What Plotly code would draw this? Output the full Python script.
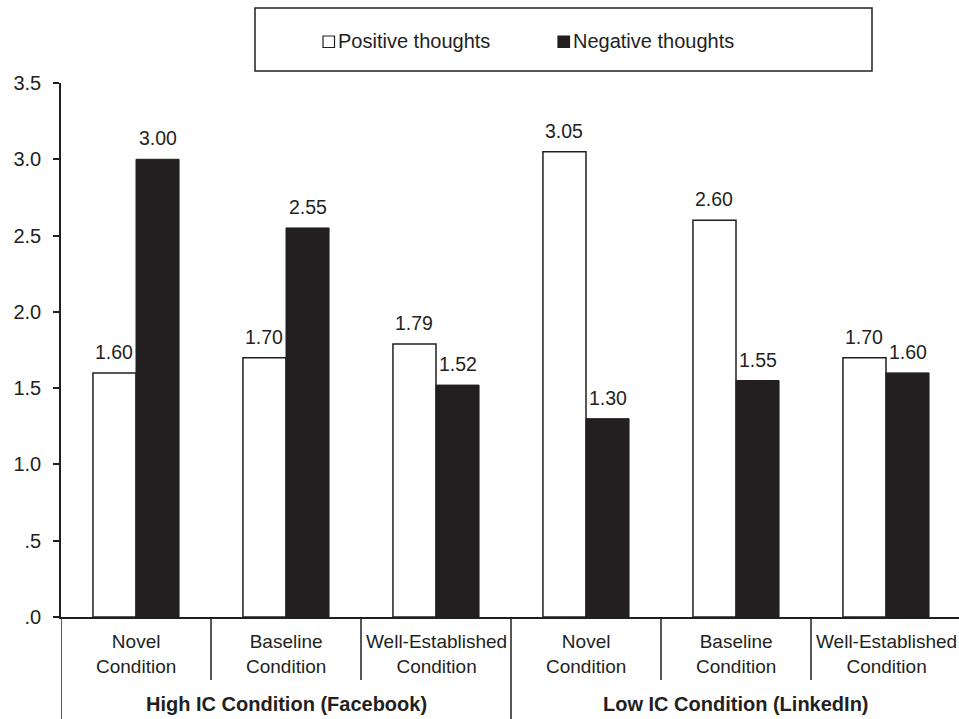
import plotly.graph_objects as go

# Thought counts by channel and relationship stage
conditions = ["Novel", "Baseline", "Well-Established",
              "Novel", "Baseline", "Well-Established"]
groups = ["High IC Condition (Facebook)", "Low IC Condition (LinkedIn)"]
positive = [1.60, 1.70, 1.79, 3.05, 2.60, 1.70]
negative = [3.00, 2.55, 1.52, 1.30, 1.55, 1.60]
y_ticks = [0, 0.5, 1.0, 1.5, 2.0, 2.5, 3.0, 3.5]
y_tick_text = [".0", ".5", "1.0", "1.5", "2.0", "2.5", "3.0", "3.5"]
series_names = ["Positive thoughts", "Negative thoughts"]

INK = "#231f20"
FONT = "Liberation Sans, Arial, Helvetica, sans-serif"
W, H = 959, 719
ML, MR, MT, MB = 61, 0, 83, 102
BAR_W = 0.287

plot_w = W - ML - MR
plot_h = H - MT - MB


def px_x(px):
    return (px - ML) / plot_w


def px_y(py):
    return (H - MB - py) / plot_h


xs = list(range(len(conditions)))

fig = go.Figure()
fig.add_trace(go.Bar(
    x=xs, y=positive, name=series_names[0], width=BAR_W, offset=-BAR_W,
    marker=dict(color="white", line=dict(color=INK, width=1.5)),
    showlegend=False, hoverinfo="skip",
))
fig.add_trace(go.Bar(
    x=xs, y=negative, name=series_names[1], width=BAR_W, offset=0,
    marker=dict(color=INK, line=dict(color=INK, width=1)),
    showlegend=False, hoverinfo="skip",
))

annotations = []
shapes = []

# value labels above each bar
for i in xs:
    for val, dx in ((positive[i], -BAR_W / 2), (negative[i], BAR_W / 2)):
        annotations.append(dict(
            x=i + dx, y=val, xref="x", yref="y", text=f"{val:.2f}",
            showarrow=False, xanchor="center", yanchor="bottom", yshift=8,
            font=dict(family=FONT, size=19.5, color=INK),
        ))

# condition labels under the axis
for i, name in enumerate(conditions):
    annotations.append(dict(
        x=i, y=px_y(629), xref="x", yref="paper", text=f"{name}<br>Condition",
        showarrow=False, xanchor="center", yanchor="top",
        font=dict(family=FONT, size=19, color=INK),
    ))

# group labels
n_per = len(conditions) // len(groups)
for g, gname in enumerate(groups):
    annotations.append(dict(
        x=g * n_per + (n_per - 1) / 2, y=px_y(704), xref="x", yref="paper",
        text=f"<b>{gname}</b>", showarrow=False, xanchor="center",
        yanchor="middle", font=dict(family=FONT, size=20, color=INK),
    ))

# separators below the axis
for i in range(len(conditions)):
    xb = i - 0.5
    y_end = px_y(H + 5) if i % n_per == 0 else px_y(680)
    shapes.append(dict(
        type="line", xref="x", yref="paper", x0=xb, x1=xb, y0=0, y1=y_end,
        line=dict(color=INK, width=1.5), layer="above",
    ))

# legend box
shapes.append(dict(
    type="rect", xref="paper", yref="paper",
    x0=px_x(255), x1=px_x(872), y0=px_y(71), y1=px_y(8),
    line=dict(color=INK, width=1.5), fillcolor="white",
))
legend_items = [(323, "white", series_names[0]), (558, INK, series_names[1])]
for left, fill, label in legend_items:
    shapes.append(dict(
        type="rect", xref="paper", yref="paper",
        x0=px_x(left), x1=px_x(left + 11.5), y0=px_y(47.5), y1=px_y(36),
        line=dict(color=INK, width=1.2), fillcolor=fill,
    ))
    annotations.append(dict(
        x=px_x(left + 13), y=px_y(41), xref="paper", yref="paper", text=label,
        showarrow=False, xanchor="left", yanchor="middle",
        font=dict(family=FONT, size=20, color=INK),
    ))

fig.update_layout(
    width=W, height=H,
    margin=dict(l=ML, r=MR, t=MT, b=MB, pad=0),
    paper_bgcolor="white", plot_bgcolor="white",
    barmode="overlay",
    annotations=annotations, shapes=shapes,
    font=dict(family=FONT, color=INK),
    xaxis=dict(
        range=[-0.5, -0.5 + plot_w / 150], showticklabels=False, ticks="",
        showgrid=False, zeroline=False, showline=True, linecolor=INK,
        linewidth=1.5, fixedrange=True,
    ),
    yaxis=dict(
        range=[0, 3.5], tickvals=y_ticks, ticktext=y_tick_text,
        ticks="outside", ticklen=6, tickwidth=1.5, tickcolor=INK,
        showline=True, linecolor=INK, linewidth=1.5, showgrid=False,
        zeroline=False, ticklabelstandoff=8,
        tickfont=dict(family=FONT, size=20, color=INK), fixedrange=True,
    ),
)

fig.write_html("out.html", config={"displayModeBar": False})
